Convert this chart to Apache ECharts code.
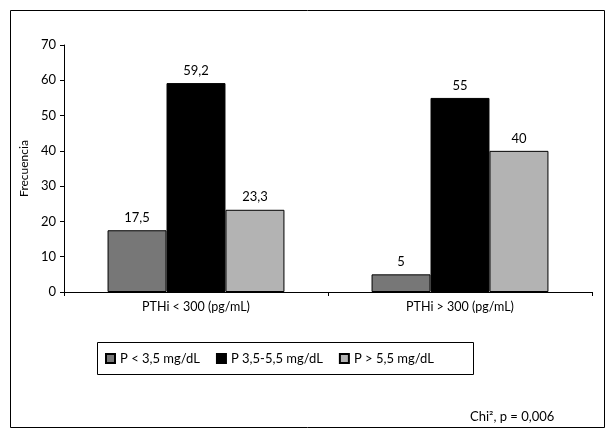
<!DOCTYPE html>
<html>
<head>
<meta charset="utf-8" />
<script src="https://cdn.jsdelivr.net/npm/echarts@6/dist/echarts.min.js"></script>
</head>
<body style="margin:0">
<div id="main" style="width:610px;height:433px"></div>
<script>
var categories = ["PTHi < 300 (pg/mL)", "PTHi > 300 (pg/mL)"];
var seriesNames = ["P < 3,5 mg/dL", "P 3,5-5,5 mg/dL", "P > 5,5 mg/dL"];
var lowP = [17.5, 5];
var midP = [59.2, 55];
var highP = [23.3, 40];
var colors = ["#777777", "#000000", "#b3b3b3"];

var font = "Lato, 'Open Sans', sans-serif";
function fmt(p) { return String(p.value).replace(".", ","); }
function bar(name, data, color) {
    return {
        name: name, type: "bar", data: data, barGap: 0, barCategoryGap: "33%",
        itemStyle: { color: color, borderColor: "#000", borderWidth: 1 },
        label: { show: true, position: "top", formatter: fmt, color: "#000", fontSize: 13, fontFamily: font, distance: 6 }
    };
}
var chart = echarts.init(document.getElementById("main"));
chart.setOption({
    animation: false,
    textStyle: { fontFamily: font },
    grid: { left: 64, right: 18, top: 45, bottom: 141 },
    xAxis: {
        type: "category", data: categories,
        axisLine: { lineStyle: { color: "#000" } },
        axisTick: { show: true, length: 4, lineStyle: { color: "#000" } },
        axisLabel: { color: "#000", fontSize: 12.5, margin: 8 }
    },
    yAxis: {
        type: "value", min: 0, max: 70, interval: 10,
        name: "Frecuencia", nameLocation: "middle", nameGap: 30,
        nameTextStyle: { color: "#000", fontSize: 12 },
        axisLine: { show: true, lineStyle: { color: "#000" } },
        axisTick: { show: true, length: 4, lineStyle: { color: "#000" } },
        axisLabel: { color: "#000", fontSize: 13 },
        splitLine: { show: false }
    },
    legend: {
        left: 100, top: 347, itemWidth: 9, itemHeight: 9, itemGap: 16,
        textStyle: { color: "#000", fontSize: 13 },
        data: seriesNames.map(function (n) { return { name: n, icon: "rect" }; })
    },
    graphic: [
        { type: "rect", left: 8, top: 8, shape: { width: 594, height: 417 }, style: { fill: "none", stroke: "#000", lineWidth: 1 } },
        { type: "rect", left: 95, top: 340, shape: { width: 376, height: 32 }, style: { fill: "none", stroke: "#000", lineWidth: 1 } },
        { type: "text", left: 470, top: 410, style: { text: "Chi², p = 0,006", fill: "#000", font: "13px " + font } }
    ],
    series: [
        bar(seriesNames[0], lowP, colors[0]),
        bar(seriesNames[1], midP, colors[1]),
        bar(seriesNames[2], highP, colors[2])
    ]
});
</script>
</body>
</html>
